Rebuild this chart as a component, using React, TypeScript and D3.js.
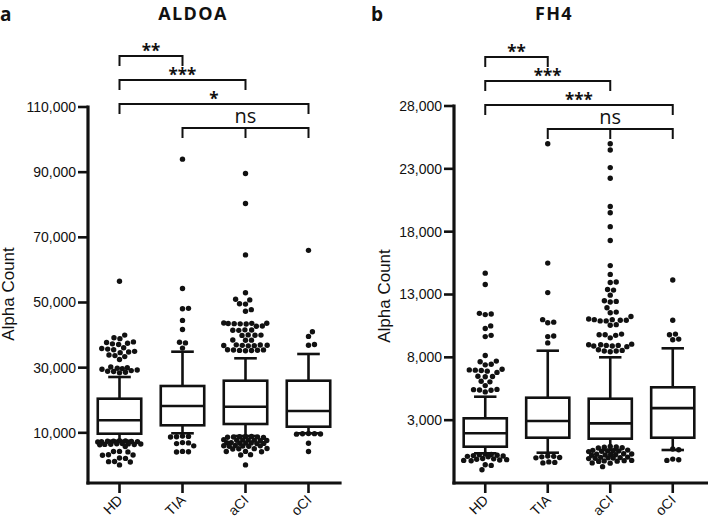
import * as d3 from 'd3';

const GROUPS = ['HD', 'TIA', 'aCI', 'oCI'];

// ---- panel a: ALDOA ----
const ALDOA_TICKS = [10000, 30000, 50000, 70000, 90000, 110000];
const ALDOA_WHISK_LO = [7580, 9855, 9026, 9855];
const ALDOA_Q1 = [9732, 12310, 12709, 11880];
const ALDOA_MEDIAN = [13845, 18234, 18019, 16699];
const ALDOA_Q3 = [20475, 24373, 26000, 26000];
const ALDOA_WHISK_HI = [27135, 34900, 32875, 34195];

const ALDOA_OUT_HD = [
  56500, 40000, 39200, 38900, 37900, 37700, 37500, 37300, 37100, 36100, 35900, 35700, 35500,
  35000, 34800, 34600, 33900, 33700, 33400, 32500, 30200, 30000, 29800, 29700, 29500, 29300,
  29100, 28900, 28800, 28600, 28400,
  7550, 7500, 7450, 7400, 7350, 7300, 7250, 7200, 6700, 6650, 6600, 6550, 6500, 6450, 6400,
  6350, 5800, 4300, 4250, 4150, 3250, 3200, 3100, 2250, 2150, 1200, 1150, 1050, 150,
];
const ALDOA_OUT_TIA = [
  94000, 54300, 48200, 48100, 44500, 41700, 37800, 37600, 36000,
  9000, 8900, 8800, 8700, 7000, 6900, 6700, 6000, 4300, 4200, 4100,
];
const ALDOA_OUT_ACI = [
  89600, 80400, 64600, 53000, 51000, 50800, 49600, 49500, 47800, 47300, 43700, 43650, 43600,
  43550, 43500, 43450, 43400, 42800, 42700, 41600, 41550, 41500, 41450, 40050, 40000, 39950,
  39900, 38500, 38450, 38400, 37000, 36950, 36900, 36850, 36800, 36750, 36700, 35500, 35450,
  35400, 35350, 35300, 35250, 35200,
  8900, 8850, 8800, 8750, 8700, 8650, 8600, 7900, 7850, 7800, 7750, 7700, 7650, 7600, 7000,
  6950, 6900, 6850, 6800, 6750, 6700, 6100, 6050, 6000, 5950, 5900, 5850, 5200, 5150, 5100,
  5050, 4300, 4250, 4200, 3300, 3200, 150,
];
const ALDOA_OUT_OCI = [66000, 41000, 39600, 37100, 36900, 9800, 9750, 9700, 9650, 9600, 6800, 4250];

// ---- panel b: FH4 ----
const FH4_TICKS = [3000, 8000, 13000, 18000, 23000, 28000];
const FH4_WHISK_LO = [363, 411, 626, 626];
const FH4_Q1 = [889, 1605, 1525, 1605];
const FH4_MEDIAN = [1955, 2934, 2745, 3957];
const FH4_Q3 = [3148, 4788, 4708, 5615];
const FH4_WHISK_HI = [4867, 8528, 8002, 8718];

const FH4_OUT_HD = [
  14700, 13800, 11500, 11450, 11400, 10500, 10300, 9750, 9650, 8150, 7700, 7650, 7450, 7400,
  7050, 7000, 6980, 6950, 6900, 6800, 6500, 6480, 6450, 6100, 6050, 5750, 5450, 5430, 5400,
  5380, 5250,
  300, 270, 240, 210, 180, 150, 120, 90, -50, -80, -110, -140, -170, -200, -230, -550, -600, -950,
];
const FH4_OUT_TIA = [25000, 15500, 13150, 11000, 10800, 10750, 9700, 9650, 9150, 150, 120, 80, 30, 0, -320, -360, -400];
const FH4_OUT_ACI = [
  25000, 24500, 23100, 22250, 20000, 19500, 18400, 17300, 15300, 14600, 14000, 13950, 13400,
  13350, 12950, 12500, 12450, 12400, 11950, 11600, 11550, 11250, 11050, 11000, 11000, 10950,
  10950, 10900, 10900, 10600, 10550, 9850, 9800, 9800, 9750, 9550, 9050, 9000, 9000, 8950,
  8950, 8900, 8900, 8850, 8600, 8550, 8500, 8500, 8450,
  900, 870, 840, 810, 780, 620, 600, 580, 560, 540, 520, 500, 330, 310, 290, 270, 250, 230,
  210, 60, 40, 20, 0, -20, -40, -60, -200, -220, -240, -260, -280, -400, -420, -700,
];
const FH4_OUT_OCI = [14150, 10950, 9850, 9800, 9450, 9400, 700, 650, -100, -150, -200];

type Sig = { a: string; b: string; mid?: string; label: string };

const ALDOA_SIG: Sig[] = [
  { a: 'HD', b: 'TIA', label: '**' },
  { a: 'HD', b: 'aCI', label: '***' },
  { a: 'HD', b: 'oCI', label: '*' },
  { a: 'TIA', b: 'oCI', mid: 'aCI', label: 'ns' },
];
const FH4_SIG: Sig[] = [
  { a: 'HD', b: 'TIA', label: '**' },
  { a: 'HD', b: 'aCI', label: '***' },
  { a: 'HD', b: 'oCI', label: '***' },
  { a: 'TIA', b: 'oCI', mid: 'aCI', label: 'ns' },
];

const BOTTOM = 483;
const DOT_R = 2.7;
const DOT_GAP = 6;
const INK = '#111';
const SANS = '"Liberation Sans", Arial, sans-serif';
const TITLE_FONT = '"Open Sans", sans-serif';

// simple beeswarm: each outlier goes to the free spot nearest the box centre line
const swarm = (values: number[], median: number, y: (v: number) => number, maxOff: number) => {
  const placed: { x: number; y: number }[] = [];
  [...values]
    .sort((a, b) => Math.abs(a - median) - Math.abs(b - median))
    .forEach((v) => {
      const py = y(v);
      const cands = [0];
      placed.forEach((p) => {
        const dy = Math.abs(p.y - py);
        if (dy < DOT_GAP) {
          const dx = Math.sqrt(DOT_GAP * DOT_GAP - dy * dy);
          cands.push(p.x + dx, p.x - dx);
        }
      });
      cands.sort((a, b) => Math.abs(a) - Math.abs(b));
      let best = cands.find(
        (c) => Math.abs(c) <= maxOff && placed.every((p) => Math.hypot(p.x - c, p.y - py) >= DOT_GAP - 0.01)
      );
      if (best === undefined) {
        let score = -1;
        best = 0;
        for (let c = -maxOff; c <= maxOff; c += 0.5) {
          const m = d3.min(placed, (p) => Math.hypot(p.x - c, p.y - py)) ?? Infinity;
          if (m > score) {
            score = m;
            best = c;
          }
        }
      }
      placed.push({ x: best, y: py });
    });
  return placed;
};

type PanelProps = {
  letter: string;
  letterX: number;
  title: string;
  titleX: number;
  yTitleX: number;
  yTitleY: number;
  axisX: number;
  axisEnd: number;
  bandEnd: number;
  yTop: number;
  domain: [number, number];
  ticks: number[];
  lo: number[];
  q1: number[];
  med: number[];
  q3: number[];
  hi: number[];
  outliers: number[][];
  sig: Sig[];
  sigTop: number;
};

const Panel = (p: PanelProps) => {
  const y = d3.scaleLinear().domain(p.domain).range([BOTTOM, p.yTop]);
  const x = d3.scaleBand<string>().domain(GROUPS).range([p.axisX, p.bandEnd]);
  const cx = (g: string) => x(g)! + x.bandwidth() / 2;
  const boxW = x.bandwidth() * 0.69;
  const capW = boxW * 0.52;
  const fmt = d3.format(',');

  return (
    <g>
      <text x={p.letterX} y={21} fontFamily={TITLE_FONT} fontWeight={700} fontSize={19} fill={INK}>
        {p.letter}
      </text>
      <text x={p.titleX} y={20} textAnchor="middle" fontFamily={TITLE_FONT} fontWeight={700} fontSize={18} letterSpacing={1.4} fill={INK}>
        {p.title}
      </text>
      <text
        transform={`translate(${p.yTitleX},${p.yTitleY}) rotate(-90)`}
        textAnchor="middle"
        fontFamily={SANS}
        fontSize={17}
        fill={INK}
      >
        Alpha Count
      </text>

      {/* significance brackets */}
      {p.sig.map((s, i) => {
        const yb = p.sigTop + i * 24;
        const x1 = cx(s.a);
        const x2 = cx(s.b);
        return (
          <g key={i}>
            <path
              d={`M${x1},${yb + 10}V${yb}H${x2}V${yb + 10}` + (s.mid ? `M${cx(s.mid)},${yb}V${yb + 10}` : '')}
              fill="none"
              stroke={INK}
              strokeWidth={2}
            />
            <text
              x={(x1 + x2) / 2}
              y={s.label === 'ns' ? yb - 5 : yb + 1}
              textAnchor="middle"
              fontFamily={TITLE_FONT}
              fontSize={s.label === 'ns' ? 20 : 17}
              fontWeight={s.label === 'ns' ? 400 : 700}
              fill={INK}
            >
              {s.label}
            </text>
          </g>
        );
      })}

      {/* y axis */}
      <line x1={p.axisX} x2={p.axisX} y1={p.yTop} y2={BOTTOM} stroke={INK} strokeWidth={3.2} strokeLinecap="square" />
      {p.ticks.map((t) => (
        <g key={t} transform={`translate(0,${y(t)})`}>
          <line x1={p.axisX - 10} x2={p.axisX} stroke={INK} strokeWidth={2.6} />
          <text x={p.axisX - 12} dy="0.35em" textAnchor="end" fontFamily={SANS} fontSize={14} fill={INK}>
            {fmt(t)}
          </text>
        </g>
      ))}

      {/* x axis */}
      <line x1={p.axisX} x2={p.axisEnd} y1={BOTTOM} y2={BOTTOM} stroke={INK} strokeWidth={3.2} strokeLinecap="square" />
      {GROUPS.map((g) => (
        <g key={g}>
          <line x1={cx(g)} x2={cx(g)} y1={BOTTOM} y2={BOTTOM + 10} stroke={INK} strokeWidth={2.6} />
          <text
            transform={`translate(${cx(g) + 4},${BOTTOM + 18}) rotate(-45)`}
            textAnchor="end"
            fontFamily={SANS}
            fontSize={14}
            fill={INK}
          >
            {g}
          </text>
        </g>
      ))}

      {/* boxes */}
      {GROUPS.map((g, i) => {
        const c = cx(g);
        return (
          <g key={g} stroke={INK} strokeWidth={2.6} fill="none">
            <line x1={c} x2={c} y1={y(p.hi[i])} y2={y(p.q3[i])} />
            <line x1={c} x2={c} y1={y(p.q1[i])} y2={y(p.lo[i])} />
            <line x1={c - capW / 2} x2={c + capW / 2} y1={y(p.hi[i])} y2={y(p.hi[i])} />
            <line x1={c - capW / 2} x2={c + capW / 2} y1={y(p.lo[i])} y2={y(p.lo[i])} />
            <rect x={c - boxW / 2} y={y(p.q3[i])} width={boxW} height={y(p.q1[i]) - y(p.q3[i])} />
            <line x1={c - boxW / 2} x2={c + boxW / 2} y1={y(p.med[i])} y2={y(p.med[i])} />
          </g>
        );
      })}

      {/* outliers */}
      {GROUPS.map((g, i) =>
        swarm(p.outliers[i], p.med[i], y, boxW / 2).map((d, j) => (
          <circle key={g + j} cx={cx(g) + d.x} cy={d.y} r={DOT_R} fill={INK} />
        ))
      )}
    </g>
  );
};

export default function App() {
  return (
    <svg width={708} height={519} style={{ position: 'absolute', left: 0, top: 0, background: '#fff' }}>
      <Panel
        letter="a"
        letterX={0}
        title="ALDOA"
        titleX={193}
        yTitleX={14}
        yTitleY={294}
        axisX={88}
        axisEnd={340}
        bandEnd={340}
        yTop={107}
        domain={[-5400, 110000]}
        ticks={ALDOA_TICKS}
        lo={ALDOA_WHISK_LO}
        q1={ALDOA_Q1}
        med={ALDOA_MEDIAN}
        q3={ALDOA_Q3}
        hi={ALDOA_WHISK_HI}
        outliers={[ALDOA_OUT_HD, ALDOA_OUT_TIA, ALDOA_OUT_ACI, ALDOA_OUT_OCI]}
        sig={ALDOA_SIG}
        sigTop={56}
      />
      <Panel
        letter="b"
        letterX={371}
        title="FH4"
        titleX={554}
        yTitleX={390}
        yTitleY={296}
        axisX={454}
        axisEnd={707}
        bandEnd={704}
        yTop={106}
        domain={[-2000, 28000]}
        ticks={FH4_TICKS}
        lo={FH4_WHISK_LO}
        q1={FH4_Q1}
        med={FH4_MEDIAN}
        q3={FH4_Q3}
        hi={FH4_WHISK_HI}
        outliers={[FH4_OUT_HD, FH4_OUT_TIA, FH4_OUT_ACI, FH4_OUT_OCI]}
        sig={FH4_SIG}
        sigTop={57}
      />
    </svg>
  );
}
